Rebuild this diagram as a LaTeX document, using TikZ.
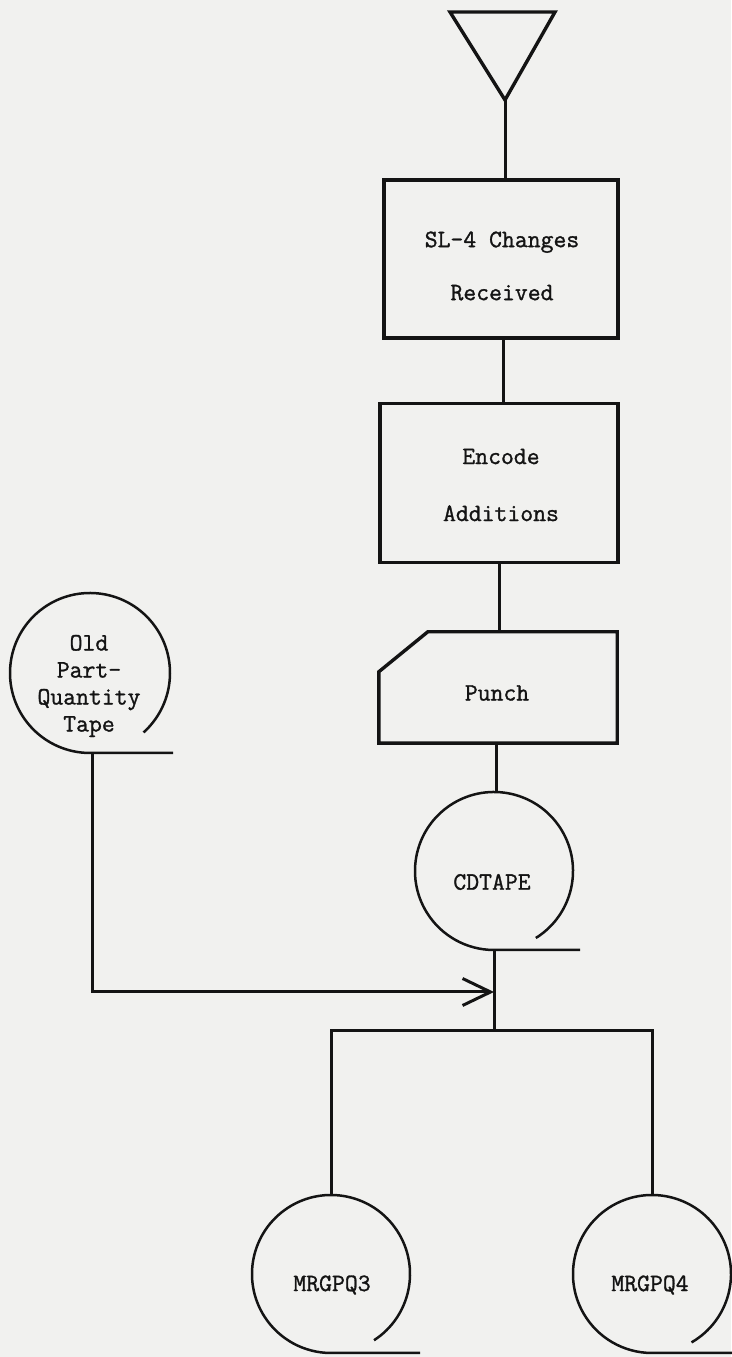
\documentclass[tikz,border=0pt]{standalone}
\usepackage{fontspec}
\newfontfamily\tw{Latin Modern Mono}[FakeBold=1.2]
\usetikzlibrary{arrows.meta,calc}
\definecolor{paper}{RGB}{241,241,239}
\definecolor{ink}{RGB}{20,20,20}
\tikzset{
  boxline/.style={draw=ink,line width=3.4pt,line join=miter},
  conn/.style={draw=ink,line width=3pt},
  tapeline/.style={draw=ink,line width=2.5pt},
  txt/.style={font=\tw\fontsize{25}{30}\selectfont,text=ink,inner sep=0pt},
  tapenode/.style={circle,minimum size=158pt,inner sep=0pt},
}
\newcommand\tapesym[4]{%
  \draw[tapeline] ($(#1.center)+(#3:#2)$) arc[start angle=#3,end angle=270,radius=#2] -- ++(#4,0);}
\begin{document}
\begin{tikzpicture}[x=1pt,y=1pt]
\fill[paper] (0,0) rectangle (731,1357);
\useasboundingbox (0,0) rectangle (731,1357);
% triangle
\draw[boxline] (450,1345) -- (555,1345) -- (505,1257) -- cycle;
\coordinate (tri) at (505,1257);
% boxes
\node[boxline,minimum width=234pt,minimum height=158pt] (b1) at (501,1098) {};
\node[txt,align=center,font=\tw\fontsize{25}{53}\selectfont] (t1) at (502,1091) {SL-4 Changes\\Received};
\node[boxline,minimum width=238pt,minimum height=159pt] (b2) at (499,874) {};
\node[txt,align=center,font=\tw\fontsize{25}{57}\selectfont] (t2) at (501,872) {Encode\\Additions};
% punch card
\node[minimum width=238pt,minimum height=111pt,inner sep=0pt] (pu) at (498,669.5) {};
\draw[boxline] ($(pu.north west)+(49,0)$) -- (pu.north east) -- (pu.south east) -- (pu.south west) -- ($(pu.north west)+(0,-40)$) -- cycle;
\node[txt] (t3) at (497,664) {Punch};
% tapes
\node[tapenode] (cd) at (494,486) {};
\tapesym{cd}{79}{-58}{86}
\node[txt] (t4) at (492,475) {CDTAPE};
\node[tapenode] (old) at (90,684) {};
\tapesym{old}{80}{-48}{83}
\node[txt,align=center,font=\tw\fontsize{25}{27}\selectfont] (t5) at (89,671) {Old\\Part-\\Quantity\\Tape};
\node[tapenode] (m3) at (331,83) {};
\tapesym{m3}{79}{-57}{89}
\node[txt] (t6) at (332,72) {MRGPQ3};
\node[tapenode] (m4) at (652,83) {};
\tapesym{m4}{79}{-60}{90}
\node[txt] (t7) at (650,72) {MRGPQ4};
% connectors
\draw[conn] (tri) -- (tri |- b1.north);
\draw[conn] ($(b1.south)+(2,0)$) -- ($(b1.south |- b2.north)+(2,0)$);
\draw[conn] (b2.south) -- (b2.south |- pu.north);
\draw[conn] ($(pu.south)+(-2,0)$) -- ($(pu.south |- cd.north)+(-2,0)$);
\coordinate (j) at (494,326);
\coordinate (ar) at (494,365);
\draw[conn] (cd.south) -- (j);
\draw[conn,-{Straight Barb[length=28pt,width=27pt,line width=3pt]}] ($(old.south)+(2,0)$) |- (ar);
\draw[conn] (m3.north) -- (m3.north |- j) -- (m4.north |- j) -- (m4.north);
\end{tikzpicture}
\end{document}
